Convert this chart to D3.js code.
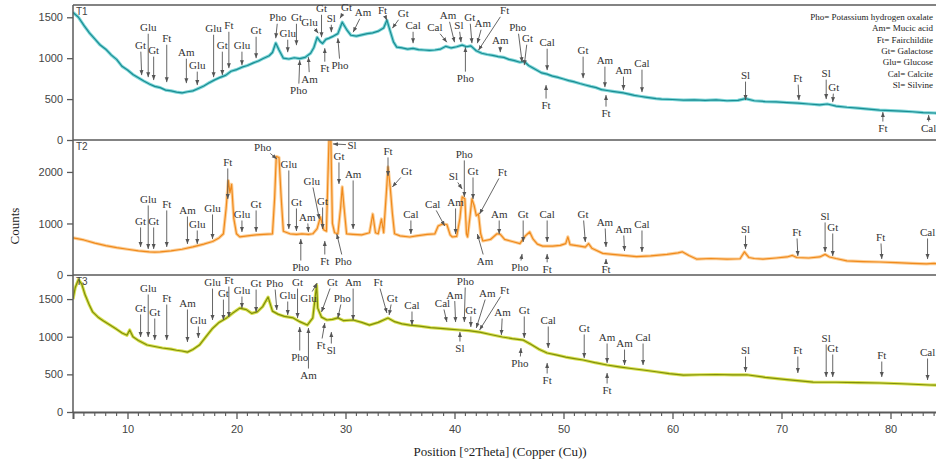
<!DOCTYPE html>
<html>
<head>
<meta charset="utf-8">
<script src="https://cdnjs.cloudflare.com/ajax/libs/d3/7.8.5/d3.min.js"></script>
<style>
  body { margin: 0; background: #fff; }
  svg { display: block; }
</style>
</head>
<body>
<svg id="chart" width="936" height="463"></svg>
<script>
// ---- data: [2theta, counts] readings per pattern ----
var t1Points = [[5,1560],[5.5,1500],[6,1400],[6.5,1310],[7,1235],[7.5,1160],[8,1110],[8.5,1040],[9,985],[9.5,900],[10,855],[10.5,800],[11,760],[11.5,720],[12,685],[12.5,655],[13,640],[13.5,610],[14,600],[14.5,585],[15,575],[15.5,590],[16,600],[16.5,630],[17,660],[17.5,700],[18,735],[18.5,765],[19,790],[19.5,840],[20,860],[20.5,890],[21,910],[21.5,940],[22,965],[22.5,1000],[23,1030],[23.3,1070],[23.6,1185],[23.9,1100],[24.3,1000],[24.8,990],[25.3,1005],[25.8,995],[26.3,1010],[26.8,1060],[27.1,1130],[27.4,1255],[27.7,1200],[27.9,1180],[28.2,1230],[28.5,1245],[28.9,1270],[29.3,1300],[29.7,1440],[30.1,1350],[30.5,1280],[31,1270],[31.5,1285],[32,1300],[32.5,1310],[33,1330],[33.5,1370],[33.8,1465],[34.1,1330],[34.4,1200],[34.7,1135],[35.2,1125],[35.7,1110],[36.2,1120],[36.7,1105],[37.2,1100],[37.7,1095],[38.2,1100],[38.7,1110],[39.2,1145],[39.7,1125],[40.2,1140],[40.7,1160],[41.1,1140],[41.5,1150],[42,1090],[42.5,1060],[43,1045],[43.5,1035],[44,1020],[44.5,1010],[45,985],[45.5,970],[46,950],[46.4,960],[46.8,910],[47.2,880],[47.6,850],[48,820],[48.5,805],[49,780],[49.5,765],[50,745],[50.5,725],[51,710],[51.5,690],[52,672],[52.5,655],[53,640],[53.5,615],[54,605],[54.5,595],[55,585],[55.5,575],[56,560],[56.5,545],[57,535],[57.5,525],[58,515],[58.5,505],[59,500],[60,495],[61,488],[62,490],[63,485],[64,490],[65,480],[66,485],[66.7,505],[67.5,480],[68.5,470],[69.5,465],[70.5,458],[71.5,450],[72.5,440],[73.5,430],[74.2,440],[75,415],[76,400],[77,390],[78,378],[79,366],[80,360],[81,354],[82,345],[83,335],[84,330],[85,328]];

var t2Points = [[5,720],[5.5,700],[6,680],[7,620],[8,570],[9,530],[10,500],[11,470],[12,450],[12.5,445],[13,450],[14,470],[15,500],[16,545],[17,600],[17.8,650],[18.4,720],[18.8,800],[19.05,1300],[19.25,1830],[19.4,1600],[19.55,1760],[19.75,1100],[20,800],[20.3,740],[21,760],[21.8,780],[22.5,790],[23.3,800],[23.5,1500],[23.65,2300],[23.9,2280],[24.1,1500],[24.3,850],[24.9,800],[25.5,790],[26,800],[26.6,790],[27,800],[27.4,900],[27.7,1126],[28,880],[28.25,850],[28.4,2000],[28.5,2700],[28.65,2700],[28.8,1000],[29,820],[29.3,800],[29.55,1300],[29.7,1709],[29.85,1350],[30.1,800],[30.7,790],[31.5,780],[32.2,820],[32.5,1184],[32.75,820],[33,800],[33.3,1087],[33.5,820],[33.75,1600],[33.9,2097],[34.1,1709],[34.3,1200],[34.5,800],[35,760],[35.9,738],[36.5,760],[37.5,790],[38.2,800],[38.5,950],[38.9,990],[39.3,980],[39.6,780],[39.8,738],[40.2,750],[40.5,1100],[40.7,1515],[40.95,1480],[41.1,800],[41.2,738],[41.4,1100],[41.6,1476],[41.8,1350],[42,1150],[42.2,1184],[42.4,800],[42.6,660],[43.3,690],[43.9,800],[44.2,790],[44.6,690],[45.3,650],[46,610],[46.5,760],[46.9,835],[47.2,700],[47.6,600],[48.1,560],[49,560],[49.7,575],[50.2,610],[50.4,740],[50.6,590],[51.5,560],[52,540],[52.3,610],[52.6,520],[53.6,420],[54.5,400],[55.5,380],[56.7,355],[58,370],[59.5,400],[60.5,430],[60.9,450],[61.5,380],[62.2,310],[63.5,320],[65,310],[66.2,315],[66.6,450],[67,340],[67.5,320],[68.3,310],[69.5,330],[70.5,350],[71,380],[71.4,340],[72.5,330],[73.5,350],[74,400],[74.4,350],[75,320],[76,275],[77.5,260],[79,252],[80.5,240],[82,225],[83.3,215],[84,225],[85,210]];

var t3Points = [[5,1500],[5.2,1650],[5.5,1760],[5.8,1700],[6.1,1560],[6.5,1420],[6.8,1330],[7.3,1260],[7.8,1210],[8.4,1155],[9,1100],[9.5,1050],[9.95,1020],[10.2,1090],[10.5,1000],[11,950],[11.8,890],[12.5,870],[13.2,850],[14,835],[14.5,820],[15,810],[15.5,795],[16,830],[16.6,890],[17.2,1000],[17.8,1110],[18.4,1190],[19.1,1250],[19.7,1320],[20.3,1380],[20.9,1360],[21.4,1310],[21.9,1330],[22.4,1400],[22.9,1527],[23.3,1340],[23.8,1300],[24.4,1270],[25.2,1250],[25.8,1200],[26.5,1155],[27,1250],[27.35,1687],[27.45,1380],[27.8,1260],[28.3,1222],[28.8,1230],[29.3,1250],[29.8,1215],[30.7,1222],[31.5,1190],[32.2,1155],[33,1190],[33.9,1248],[34.5,1200],[35.2,1170],[35.9,1155],[36.8,1140],[37.8,1120],[38.7,1110],[39.5,1100],[40.5,1089],[41.3,1080],[42.3,1062],[43.3,1030],[44.4,996],[45.3,975],[46.3,956],[47,900],[47.8,830],[48.5,784],[49.3,760],[50.2,730],[51,710],[51.8,691],[52.9,655],[54,624],[55.1,600],[56.2,578],[57.3,558],[58.5,535],[59.7,510],[61,491],[62.5,495],[64,498],[65.5,492],[66.8,495],[68.5,460],[70.5,430],[72.9,398],[75,395],[77,390],[79,385],[81,375],[83.6,359],[85,355]];

// ---- phase marks: [phase, tip 2theta, tip counts, label 2theta, label counts] ----
var t1Marks = [["Gt",11.3,793,11.2,1159],["Glu",11.9,768,11.9,1378],["Gt",12.4,732,12.4,1098],["Ft",13.6,707,13.6,1244],["Am",15.4,695,15.4,1073],["Glu",16.4,671,16.4,915],["Glu",17.9,768,17.9,1366],["Gt",18.7,793,18.7,1159],["Ft",19.3,878,19.3,1402],["Glu",20.5,915,20.5,1159],["Gt",21.8,1000,21.8,1341],["Pho",23.6,1244,23.8,1500],["Glu",24.7,1073,24.7,1305],["Gt",25.5,1159,25.5,1500],["Glu",27.5,1305,26.7,1439],["Gt",27.8,1256,27.8,1610],["Sl",28.7,1317,28.7,1488],["Gt",29.5,1488,30.1,1622],["Am",30.7,1317,31.6,1561],["Pho",25.8,976,25.7,610],["Am",26.6,1012,26.7,750],["Ft",28.1,1122,28.1,878],["Pho",29.3,1244,29.5,915],["Ft",33.8,1463,33.4,1585],["Gt",34.3,1366,35.3,1549],["Cal",36.2,1183,36.2,1402],["Cal",39.3,1195,38.2,1378],["Am",40,1195,39.4,1524],["Sl",40.6,1195,40.4,1402],["Gt",41.6,1183,41.4,1500],["Am",42.1,1183,42.6,1427],["Ft",42.2,1098,44.6,1585],["Am",44.2,1073,44.2,1220],["Pho",41,1134,41,756],["Pho",46.2,951,45.8,1378],["Gt",46.4,915,46.7,1244],["Cal",48.5,854,48.5,1195],["Ft",48.4,671,48.4,427],["Gt",51.8,756,51.8,1098],["Am",53.8,646,53.8,976],["Ft",53.9,549,53.9,329],["Am",55.5,610,55.5,854],["Cal",57.2,585,57.2,939],["Sl",66.7,488,66.7,793],["Ft",71.6,488,71.5,756],["Sl",74.1,500,74.1,817],["Gt",74.7,463,74.8,646],["Ft",79.3,341,79.3,146],["Cal",83.5,305,83.5,146]];

var t2Marks = [["Gt",11.2,544,11.2,1049],["Glu",11.9,505,11.9,1476],["Gt",12.4,505,12.4,1049],["Ft",13.6,544,13.6,1379],["Am",15.5,602,15.5,1262],["Glu",16.4,602,16.4,990],["Glu",17.8,699,17.8,1301],["Ft",19.2,1476,19.2,2194],["Glu",20.5,835,20.5,1184],["Gt",21.8,835,21.8,1379],["Pho",23.7,2252,22.4,2485],["Glu",24.8,893,24.8,2155],["Gt",25.5,854,25.5,1417],["Am",26.6,835,26.5,1126],["Glu",27.6,1087,26.9,1825],["Gt",27.9,893,27.9,1437],["Pho",25.9,699,25.9,155],["Ft",28.1,660,28.1,272],["Pho",29.2,796,29.8,272],["Sl",28.85,2544,30.6,2524],["Gt",29.4,1767,29.4,2311],["Am",30.7,893,30.7,1961],["Ft",33.9,1922,33.9,2408],["Gt",34.3,1709,35.6,2019],["Cal",36,796,36,1184],["Cal",39.1,951,38,1379],["Am",40.1,796,40.1,1417],["Sl",40.7,1670,39.9,1922],["Pho",40.9,1515,40.9,2350],["Gt",41.7,1476,41.7,2019],["Ft",42.3,1184,44.4,2000],["Am",42.1,796,42.8,272],["Am",44.1,796,44.1,1184],["Gt",46.3,641,46.3,1184],["Pho",46.2,408,46,155],["Cal",48.5,641,48.5,1184],["Ft",48.5,408,48.5,120],["Gt",52,641,51.8,1184],["Am",53.9,544,53.8,1029],["Ft",53.9,311,53.9,120],["Am",55.6,466,55.5,893],["Cal",57.2,447,57.2,990],["Sl",66.7,505,66.7,893],["Ft",71.5,369,71.4,835],["Sl",74,447,74,1146],["Gt",74.7,369,74.7,932],["Ft",79.2,311,79.1,738],["Cal",83.4,311,83.4,835]];

var t3Marks = [["Gt",11.2,996,11.2,1381],["Glu",11.9,996,11.9,1647],["Gt",12.5,956,12.5,1328],["Ft",13.6,956,13.6,1514],["Am",15.5,930,15.5,1448],["Glu",16.5,983,16.5,1222],["Glu",17.8,1222,17.8,1726],["Gt",18.8,1222,18.8,1580],["Ft",19.3,1262,19.3,1753],["Glu",20.5,1381,20.5,1620],["Gt",21.8,1328,21.8,1713],["Pho",23.7,1355,23.5,1713],["Glu",24.7,1288,24.7,1554],["Gt",25.6,1248,25.6,1726],["Glu",27.4,1713,26.6,1514],["Gt",27.8,1328,28.8,1726],["Pho",29.3,1248,29.7,1514],["Am",30.7,1222,30.7,1726],["Pho",25.8,1129,25.8,730],["Am",26.6,1116,26.6,491],["Ft",28.1,1182,27.75,890],["Sl",28.7,1062,28.7,823],["Ft",33.8,1315,33,1726],["Gt",34,1288,34.3,1514],["Cal",36.1,1155,36.1,1421],["Cal",39.3,1195,38.9,1448],["Am",40.1,1195,40,1560],["Pho",40.9,1195,41,1740],["Sl",40.5,1062,40.5,850],["Gt",41.5,1129,41.5,1355],["Am",42,1116,43,1580],["Ft",42.3,1089,44.6,1620],["Am",44.3,1023,44.4,1328],["Gt",46.4,983,46.4,1355],["Pho",46.1,850,46,651],["Cal",48.6,850,48.6,1222],["Ft",48.5,651,48.5,425],["Gt",51.9,717,51.9,1116],["Am",54,651,54,996],["Ft",54,518,54,292],["Am",55.6,624,55.6,916],["Cal",57.3,624,57.3,996],["Sl",66.7,531,66.7,823],["Ft",71.5,518,71.5,823],["Sl",74.1,465,74.1,983],["Gt",74.7,465,74.7,850],["Ft",79.2,465,79.2,757],["Cal",83.4,425,83.4,797]];

var sampleNames = ["T1", "T2", "T3"];
var countMax = [1650, 2620, 1820];
var countTicks = [[0, 500, 1000, 1500], [0, 1000, 2000], [0, 500, 1000, 1500]];
var thetaDomain = [5, 85];
var thetaLabels = [10, 20, 30, 40, 50, 60, 70, 80];
var legendLines = ["Pho= Potassium hydrogen oxalate", "Am= Mucic acid", "Ft= Fairchildite", "Gt= Galactose", "Glu= Glucose", "Cal= Calcite", "Sl= Silvine"];

// ---- layout ----
var svg = d3.select("#chart");
var left = 73, right = 945, bands = [[5, 140], [140, 275], [275, 412]];
var colors = [["#1a8c92", "#7dd6d8"], ["#f08a1c", "#fcd09a"], ["#7f8f0a", "#d9e152"]];
var axisColor = "#5a5a5a";

var x = d3.scaleLinear().domain(thetaDomain).range([left, right]);

svg.append("defs").append("marker")
    .attr("id", "arr")
    .attr("viewBox", "0 0 6 6")
    .attr("refX", 6).attr("refY", 3)
    .attr("markerWidth", 5).attr("markerHeight", 5)
    .attr("markerUnits", "userSpaceOnUse")
    .attr("orient", "auto")
  .append("path")
    .attr("d", "M0,0.6L6,3L0,5.4Z")
    .attr("fill", "#555");

function drawPanel(i) {
    var top = bands[i][0], bottom = bands[i][1];
    var y = d3.scaleLinear().domain([0, countMax[i]]).range([bottom, top]);
    var points = [t1Points, t2Points, t3Points][i];
    var marks = [t1Marks, t2Marks, t3Marks][i];
    var g = svg.append("g").attr("class", "panel");

    g.append("clipPath").attr("id", "clip" + i)
      .append("rect").attr("x", left).attr("y", top).attr("width", right - left).attr("height", bottom - top);

    var line = d3.line().x(function(d) { return x(d[0]); }).y(function(d) { return y(d[1]); });

    g.append("path").datum(points)
        .attr("d", line).attr("clip-path", "url(#clip" + i + ")")
        .attr("fill", "none").attr("stroke", colors[i][1]).attr("stroke-width", 3.2)
        .attr("stroke-linejoin", "round");
    g.append("path").datum(points)
        .attr("d", line).attr("clip-path", "url(#clip" + i + ")")
        .attr("fill", "none").attr("stroke", colors[i][0]).attr("stroke-width", 1.2)
        .attr("stroke-linejoin", "round");

    var ax = g.append("g").attr("transform", "translate(" + left + ",0)")
        .call(d3.axisLeft(y).tickValues(countTicks[i]).tickFormat(d3.format("d")).tickSize(6).tickPadding(4));
    ax.select(".domain").remove();
    ax.selectAll("line").attr("stroke", axisColor).attr("stroke-width", 1.3);
    ax.selectAll("text").attr("fill", "#444").style("font", "11px 'Liberation Sans', Arial, sans-serif");

    g.append("line").attr("x1", left).attr("x2", 936).attr("y1", top).attr("y2", top)
        .attr("stroke", axisColor).attr("stroke-width", 1.5);

    g.append("text").text(sampleNames[i])
        .attr("x", left + 3).attr("y", top + 10)
        .attr("fill", "#444").style("font", "10px 'Liberation Sans', Arial, sans-serif");

    marks.forEach(function(m) { drawMark(g, m, y); });
}

function drawMark(g, m, y) {
    var tx = x(m[1]), ty = y(m[2]), lx = x(m[3]), ly = y(m[4]);
    var label = g.append("text").text(m[0])
        .attr("x", lx).attr("y", ly)
        .attr("text-anchor", "middle").attr("dominant-baseline", "central")
        .attr("fill", "#333").style("font", "11px 'Liberation Serif', 'Times New Roman', serif");
    var hw = label.node().getComputedTextLength() / 2 + 1.5, hh = 6.5;
    var dx = tx - lx, dy = ty - ly;
    var t = Math.min(dx ? hw / Math.abs(dx) : Infinity, dy ? hh / Math.abs(dy) : Infinity);
    g.append("line")
        .attr("x1", lx + dx * t).attr("y1", ly + dy * t)
        .attr("x2", tx).attr("y2", ty)
        .attr("stroke", "#555").attr("stroke-width", 0.9)
        .attr("marker-end", "url(#arr)");
}

[0, 1, 2].forEach(drawPanel);

// left axis line + bottom axis
svg.append("line").attr("x1", left).attr("x2", left).attr("y1", bands[0][0]).attr("y2", bands[2][1])
    .attr("stroke", axisColor).attr("stroke-width", 1.5);

var xa = svg.append("g").attr("transform", "translate(0," + bands[2][1] + ")");
xa.call(d3.axisBottom(x).tickValues(thetaLabels).tickSize(7).tickPadding(6));
xa.select(".domain").attr("stroke", axisColor).attr("stroke-width", 2);
xa.selectAll("line").attr("stroke", axisColor).attr("stroke-width", 1.3);
xa.selectAll("text").attr("fill", "#444").style("font", "11px 'Liberation Sans', Arial, sans-serif");
xa.selectAll(".minor").data(x.ticks(80).filter(function(v) { return v % 10 !== 0 && v > thetaDomain[0]; }))
  .enter().append("line")
    .attr("x1", function(v) { return x(v); }).attr("x2", function(v) { return x(v); })
    .attr("y1", 0).attr("y2", 4)
    .attr("stroke", axisColor).attr("stroke-width", 1.1);

// titles
svg.append("text").text("Position [°2Theta] (Copper (Cu))")
    .attr("x", 500).attr("y", 456).attr("text-anchor", "middle")
    .attr("fill", "#222").style("font", "13px 'Liberation Serif', 'Times New Roman', serif");
svg.append("text").text("Counts")
    .attr("transform", "translate(19,226) rotate(-90)").attr("text-anchor", "middle")
    .attr("fill", "#222").style("font", "13px 'Liberation Serif', 'Times New Roman', serif");

// phase legend
svg.append("g").selectAll("text").data(legendLines).enter().append("text")
    .text(function(d) { return d; })
    .attr("x", 933).attr("y", function(d, i) { return 20 + i * 11.3; })
    .attr("text-anchor", "end")
    .attr("fill", "#222").style("font", "9px 'Liberation Serif', 'Times New Roman', serif");
</script>
</body>
</html>
